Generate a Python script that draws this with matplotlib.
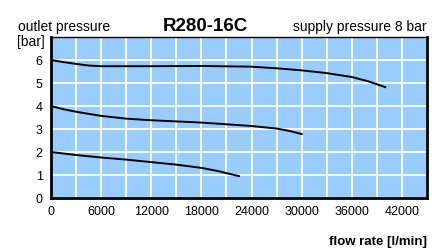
import matplotlib.pyplot as plt

plt.rcParams['font.family'] = ['Liberation Sans', 'DejaVu Sans']

# ---- data ----
flow_6 = [0, 1500, 3000, 4500, 6000, 12000, 18000, 24000, 27000, 30000, 33000, 36000, 38000, 40000]
p_6 = [6.0, 5.91, 5.83, 5.76, 5.73, 5.73, 5.74, 5.71, 5.64, 5.55, 5.43, 5.26, 5.07, 4.82]

flow_4 = [0, 1500, 3000, 6000, 9000, 12000, 18000, 24000, 27000, 28500, 30000]
p_4 = [4.0, 3.86, 3.75, 3.57, 3.45, 3.38, 3.28, 3.13, 3.02, 2.92, 2.78]

flow_2 = [0, 3000, 6000, 9000, 12000, 15000, 18000, 20000, 22500]
p_2 = [2.0, 1.87, 1.76, 1.67, 1.56, 1.45, 1.31, 1.17, 0.95]

xticks = [0, 6000, 12000, 18000, 24000, 30000, 36000, 42000]
yticks = [0, 1, 2, 3, 4, 5, 6]

fig = plt.figure(figsize=(4.38, 2.49), dpi=100)
ax = fig.add_axes([0.1164, 0.2048, 0.8586, 0.6466])
ax.set_facecolor('#99ccff')

for fx, py in [(flow_6, p_6), (flow_4, p_4), (flow_2, p_2)]:
    ax.plot(fx, py, color='black', lw=1.4, zorder=3, solid_joinstyle='round')

ax.set_xlim(0, 45000)
ax.set_ylim(0, 7)
ax.set_xticks(range(0, 45001, 3000))
ax.set_yticks(range(0, 8))
ax.grid(True, color='white', lw=1.3, zorder=1)
ax.set_axisbelow(True)
ax.tick_params(length=0, labelsize=9, pad=6)
ax.set_xticklabels([str(v) if v in xticks else '' for v in range(0, 45001, 3000)])
ax.set_yticklabels([str(v) if v in yticks else '' for v in range(0, 8)])

for s in ['left', 'bottom', 'right']:
    ax.spines[s].set_linewidth(2)
ax.spines['top'].set_linewidth(1)

fig.text(0.04, 0.89, 'outlet pressure', fontsize=10, va='center')
fig.text(0.038, 0.83, '[bar]', fontsize=10, va='center')
fig.text(0.468, 0.895, 'R280-16C', fontsize=13.5, fontweight='bold', ha='center', va='center')
fig.text(0.975, 0.89, 'supply pressure 8 bar', fontsize=10, ha='right', va='center')
fig.text(0.975, 0.03, 'flow rate [l/min]', fontsize=9.5, fontweight='bold', ha='right', va='center')

fig.savefig('out.png', dpi=100)
